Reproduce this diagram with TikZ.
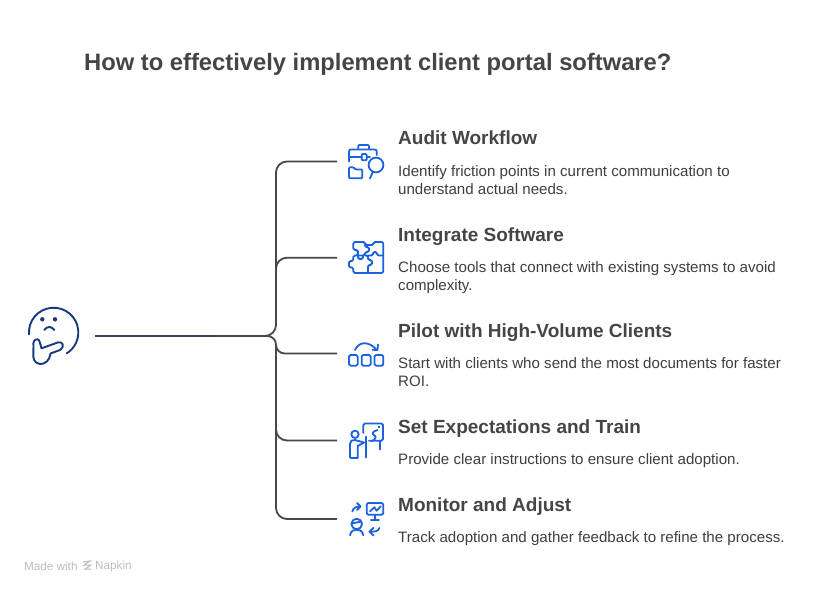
\documentclass[tikz,border=0pt]{standalone}
\usepackage{fontspec}
\setmainfont{Liberation Sans}
\usepackage{tikz}
\usetikzlibrary{positioning}

\definecolor{inkdark}{HTML}{454545}
\definecolor{inkbody}{HTML}{3F3F3F}
\definecolor{wire}{HTML}{484848}
\definecolor{wirestart}{HTML}{4D3A5C}
\definecolor{iconblue}{HTML}{1A62E0}
\definecolor{navy}{HTML}{17397F}
\definecolor{markgrey}{HTML}{BDBDBD}

\tikzset{
    headline/.style={anchor=west, inner sep=0pt, text=inkdark, font=\fontsize{23.75}{28}\selectfont\bfseries},
    heading/.style={anchor=west, inner sep=0pt, text height=15pt, text depth=4pt, text=inkdark, font=\fontsize{19}{24}\selectfont\bfseries},
    bodytext/.style={anchor=north west, inner sep=0pt, align=left, text=inkbody, font=\fontsize{15.1}{18}\selectfont},
    stamp/.style={anchor=west, inner sep=0pt, text=markgrey, font=\fontsize{11.7}{13}\selectfont},
    wireline/.style={draw=wire, line width=1.8pt, rounded corners=11pt},
    iconline/.style={draw=iconblue, line width=1.8pt, line cap=round, line join=round},
    thinkline/.style={draw=navy, line width=1.9pt, line cap=round, line join=round},
}

\begin{document}
\begin{tikzpicture}[x=1pt, y=-1pt]
    \useasboundingbox[fill=white] (0,0) rectangle (815,594);

    \node [headline] (headline) at (84,64) {How to effectively implement client portal software?};

    % items
    \node [heading] (audit) at (398,139.5) {Audit Workflow};
    \node [bodytext, below=25.5pt of audit.west, anchor=north west] (auditText) {Identify friction points in current communication to\\understand actual needs.};
    \node [heading] (integrate) at (398,235.5) {Integrate Software};
    \node [bodytext, below=25.5pt of integrate.west, anchor=north west] (integrateText) {Choose tools that connect with existing systems to avoid\\complexity.};
    \node [heading] (pilot) at (398,331.5) {Pilot with High-Volume Clients};
    \node [bodytext, below=25.5pt of pilot.west, anchor=north west] (pilotText) {Start with clients who send the most documents for faster\\ROI.};
    \node [heading] (expect) at (398,427.5) {Set Expectations and Train};
    \node [bodytext, below=25.5pt of expect.west, anchor=north west] (expectText) {Provide clear instructions to ensure client adoption.};
    \node [heading] (monitor) at (398,505.5) {Monitor and Adjust};
    \node [bodytext, below=25.5pt of monitor.west, anchor=north west] (monitorText) {Track adoption and gather feedback to refine the process.};

    % connectors
    \coordinate (root) at (95,336);
    \coordinate (tint) at (216,336);
    \coordinate (hub) at (276,336);
    \coordinate (trunkB) at (276,275);
    \coordinate (trunkD) at (276,420);
    \coordinate (trunkE) at (276,345);
    \coordinate (endA) at (337,161.5);
    \coordinate (endB) at (337,257.7);
    \coordinate (endC) at (337,353.5);
    \coordinate (endD) at (337,440.5);
    \coordinate (endE) at (337,519);

    \draw [wireline] (root) -- (hub) |- (endA);
    \draw [wireline] (trunkB) |- (endB);
    \draw [wireline, rounded corners=8.7pt] (root) -- (hub) |- (endC);
    \draw [wireline] (trunkD) |- (endD);
    \draw [wireline] (trunkE) |- (endE);
    \draw [draw=wirestart, line width=1.8pt] (root) -- (tint);

    % thinking face
    \draw [thinkline] (29,334.4) arc[start angle=184.6, end angle=-58, radius=24.7pt];
    \fill [navy] (42.3,319.3) circle[radius=2.2pt];
    \fill [navy] (55,319.3) circle[radius=2.2pt];
    \draw [thinkline] (44.3,330) .. controls (47,326) and (51.5,326) .. (54.3,330);
    \draw [thinkline] (34,341) .. controls (36,338.5) and (39,338.5) .. (39.7,342) -- (41.5,348.3) -- (58,342.4)
        .. controls (63,341) and (65,347) .. (60,350) -- (50.5,353.5)
        .. controls (50,360) and (45,364.5) .. (40,364)
        .. controls (34,363.5) and (33,358) .. (33.3,354) -- (33.5,346) .. controls (33.5,344) and (33,342.5) .. (34,341);

    % briefcase and magnifier
    \begin{scope}[iconline]
        \draw (358.3,148.5) -- (358.3,146.5) .. controls (358.3,145) and (359,145) .. (360,145) -- (367,145) .. controls (368.3,145) and (369,145) .. (369,146.5) -- (369,148.5);
        \draw (376.7,155) -- (376.7,151.5) .. controls (376.7,150) and (376,149.5) .. (374.5,149.5) -- (351,149.5) .. controls (349.5,149.5) and (349,150) .. (349,151.5) -- (349,161.5);
        \draw (349.5,157.3) -- (361.7,157.3);
        \draw (366.7,157.3) -- (370,157.3);
        \draw [rounded corners=1pt] (361.7,154) rectangle (366.7,160.3);
        \draw [rounded corners=1pt] (349,167.3) -- (349,178.3) -- (362.3,178.3) -- (362.3,169.5) -- (355.5,169.5) -- (353.5,167.3) -- cycle;
        \draw (376,165) circle[radius=7.4pt];
        \draw (372.7,172.3) -- (370,178.5);
    \end{scope}

    % puzzle
    \begin{scope}[iconline, rounded corners=1.5pt]
        \draw (353.3,242) -- (365,242) -- (365,245) -- (373.5,245) -- (373.5,242) -- (383.3,242) -- (383.3,273) -- (353.3,273) -- (353.3,267.5) -- (349,267.5) -- (349,261) -- (353.3,261) -- (353.3,255.5) -- (358,255.5) -- (358,250) -- (353.3,250) -- cycle;
        \draw (365,245) -- (365,247) -- (369,247) -- (369,252) -- (365,252) -- (365,255.5) -- (358,255.5);
        \draw (358,255.5) -- (358,259) -- (363,259) -- (363,255.5);
        \draw (365,255.5) -- (368,255.5) -- (368,260) -- (372,260) -- (372,265) -- (368,265) -- (368,273);
        \draw (368,255.5) -- (373,255.5) -- (373,252) -- (377,252) -- (377,255.5) -- (383.3,255.5);
    \end{scope}

    % pilot steps
    \begin{scope}[iconline]
        \draw (355,350) .. controls (359,341) and (369,341) .. (377,350);
        \draw (372.5,349.8) -- (377.5,350) -- (378,344.5);
        \draw [rounded corners=1.5pt] (349,355) rectangle (357.7,365.7);
        \draw [rounded corners=1.5pt] (361.7,355) rectangle (370.7,365.7);
        \draw [rounded corners=1.5pt] (374.5,355) rectangle (383.3,365.7);
    \end{scope}

    % trainer at board
    \begin{scope}[iconline]
        \draw [rounded corners=1.5pt] (363.3,433) -- (363.3,423.5) -- (383,423.5) -- (383,440.7) -- (369,440.7);
        \draw (380,440.7) -- (380,449.5);
        \draw (365.7,436.7) -- (365.7,457.5);
        \draw (355,434.3) circle[radius=3.7pt];
        \draw (350,456) -- (350,444) .. controls (350,441) and (352,439.5) .. (355,440) -- (364,442.5) -- (357.7,446) -- (357.7,458) -- (351,458) .. controls (350,458) and (350,457) .. (350,456);
        \draw (377.5,430) .. controls (372,431.5) and (371.5,434) .. (374.5,435.5) .. controls (377,437) and (375,440) .. (371.5,441);
        \fill [iconblue, draw=none] (377.5,425.5) rectangle (380,428);
    \end{scope}

    % monitor and people
    \begin{scope}[iconline]
        \draw [rounded corners=1.5pt] (366.7,503) rectangle (383.3,514.7);
        \draw (370,511.3) -- (374.3,507.3) -- (376.7,510.7) -- (380.7,506.3);
        \draw (375,514.7) -- (375,520);
        \draw (371,520.3) -- (379,520.3);
        \draw (352.3,511.5) .. controls (353,508) and (356,506.5) .. (360.5,506.5);
        \draw (357,503) -- (360.5,506.5) -- (357,510);
        \draw (356.7,524) circle[radius=5.3pt];
        \draw (351.5,523.5) -- (361.5,521.5);
        \draw (350,535.3) .. controls (351,530.5) and (354,529.7) .. (356.7,529.7) .. controls (359.5,529.7) and (362.5,530.5) .. (363.3,535.3);
        \draw (379.3,528) .. controls (378.5,531) and (375,532) .. (369.5,531.7);
        \draw (373.5,527.8) -- (369.5,531.7) -- (373.5,535.5);
    \end{scope}

    % stamp
    \node [stamp] (made) at (24,566.5) {Made with};
    \node [stamp] (napkin) at (95,566.5) {Napkin};
    \draw [markgrey, line width=1pt] (83,562) -- (90,561) -- (84,565) -- (91,565) -- (85,569) -- (91,569);
\end{tikzpicture}
\end{document}
